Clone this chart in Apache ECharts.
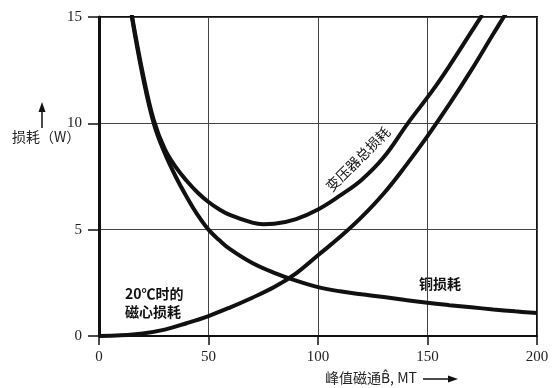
<!DOCTYPE html>
<html><head><meta charset="utf-8">
<script src="https://cdn.jsdelivr.net/npm/echarts@6/dist/echarts.min.js"></script>
<style>html,body{margin:0;padding:0;background:#fff}#c{width:560px;height:388px}</style>
</head><body><div id="c"></div>
<script>
// Peak flux density (mT) sample points and losses (W)
var copperB    = [15, 20, 25, 30, 35, 40, 45, 50, 55, 60, 70, 80, 90, 100, 110, 120, 130, 140, 150, 160, 170, 180, 190, 200];
var copperLoss = [15, 12.2, 10.0, 8.6, 7.5, 6.55, 5.7, 5.0, 4.5, 4.07, 3.43, 2.97, 2.6, 2.3, 2.1, 1.96, 1.83, 1.69, 1.56, 1.45, 1.35, 1.25, 1.16, 1.08];
var coreB      = [0, 10, 20, 30, 40, 50, 60, 70, 80, 90, 100, 110, 120, 130, 140, 150, 160, 170, 180, 186];
var coreLoss   = [0, 0.03, 0.12, 0.3, 0.6, 0.94, 1.35, 1.8, 2.3, 2.95, 3.8, 4.65, 5.6, 6.7, 8.0, 9.4, 10.9, 12.5, 14.2, 15.2];
var totalB     = [14.8, 20, 25, 30, 35, 40, 45, 50, 55, 60, 70, 75, 80, 90, 100, 110, 120, 130, 141, 152, 160, 170, 175];
var totalLoss  = [15.2, 12.35, 10.15, 8.8, 7.95, 7.3, 6.75, 6.3, 5.95, 5.68, 5.33, 5.26, 5.28, 5.5, 5.95, 6.6, 7.35, 8.4, 10, 11.5, 12.7, 14.3, 15.1];
var xTicks = [0, 50, 100, 150, 200];
var yTicks = [0, 5, 10, 15];

function pairs(xs, ys){ return xs.map(function(x,i){ return [x, ys[i]]; }); }

var chart = echarts.init(document.getElementById('c'), null, {renderer:'canvas'});
var serif = 'serif';
var cjk = '"Noto Sans CJK SC","Noto Sans",sans-serif';
var lineStyle = {color:'#111', width:4};
chart.setOption({
  backgroundColor:'#fff',
  animation:false,
  textStyle:{fontFamily:serif},
  grid:{left:99, right:23, top:17, bottom:52, show:true, borderColor:'#111', borderWidth:2, backgroundColor:'transparent'},
  xAxis:{type:'value', min:xTicks[0], max:xTicks[xTicks.length-1], interval:50,
    axisLine:{show:true, onZero:false, lineStyle:{color:'#111', width:2}},
    axisTick:{show:true, length:9, lineStyle:{color:'#111', width:1.5}},
    axisLabel:{margin:14, color:'#222', fontFamily:serif, fontSize:15},
    splitLine:{show:true, lineStyle:{color:'#444', width:1}}},
  yAxis:{type:'value', min:yTicks[0], max:yTicks[yTicks.length-1], interval:5,
    axisLine:{show:true, onZero:false, lineStyle:{color:'#111', width:3}},
    axisTick:{show:true, length:11, lineStyle:{color:'#111', width:1.5}},
    axisLabel:{margin:17, color:'#222', fontFamily:serif, fontSize:15},
    splitLine:{show:true, lineStyle:{color:'#444', width:1}}},
  series:[
    {type:'line', name:'铜损耗', data:pairs(copperB, copperLoss), smooth:0.4, showSymbol:false, lineStyle:lineStyle, clip:true},
    {type:'line', name:'磁心损耗', data:pairs(coreB, coreLoss), smooth:0.4, showSymbol:false, lineStyle:lineStyle, clip:true},
    {type:'line', name:'变压器总损耗', data:pairs(totalB, totalLoss), smooth:0.4, showSymbol:false, lineStyle:lineStyle, clip:true}
  ],
  graphic:[
    {type:'text', left:12, top:130, style:{text:'损耗（W）', fill:'#222', font:'14px '+cjk}},
    {type:'line', shape:{x1:42, y1:128, x2:42, y2:108}, style:{stroke:'#111', lineWidth:1.5}},
    {type:'polygon', shape:{points:[[42,102],[38.5,112],[45.5,112]]}, style:{fill:'#111'}},
    {type:'text', x:325, y:371, style:{text:'峰值磁通B\u0302, MT', fill:'#222', font:'14px '+cjk}},
    {type:'line', shape:{x1:423, y1:379, x2:452, y2:379}, style:{stroke:'#111', lineWidth:1.5}},
    {type:'polygon', shape:{points:[[458,379],[448,375.5],[448,382.5]]}, style:{fill:'#111'}},
    {type:'text', x:125, y:287, style:{text:'20℃时的', fill:'#111', font:'bold 14px '+cjk}},
    {type:'text', x:125, y:305, style:{text:'磁心损耗', fill:'#111', font:'bold 14px '+cjk}},
    {type:'text', x:419, y:277, style:{text:'铜损耗', fill:'#111', font:'bold 14px '+cjk}},
    {type:'text', x:358, y:159, rotation:Math.PI/4, style:{text:'变压器总损耗', fill:'#111', font:'14px '+cjk, align:'center', verticalAlign:'middle'}}
  ]
});
</script></body></html>
